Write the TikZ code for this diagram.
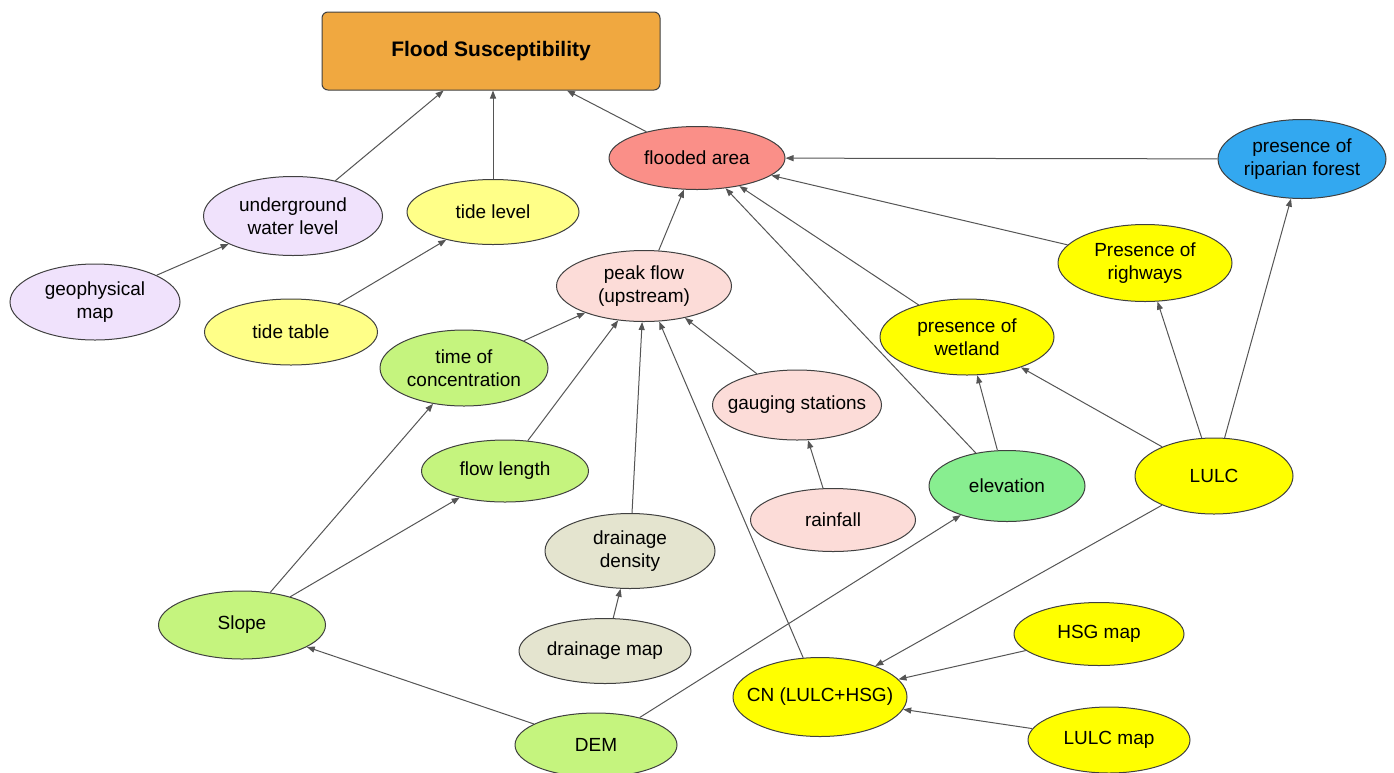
\documentclass[tikz,border=0pt]{standalone}
\usepackage{fontspec}
\setmainfont{Liberation Sans}
\usetikzlibrary{shapes.geometric,arrows.meta}
\definecolor{cOrange}{HTML}{F0A840}
\definecolor{cSalmon}{HTML}{FA8F88}
\definecolor{cLav}{HTML}{F0E2FC}
\definecolor{cLY}{HTML}{FFFF88}
\definecolor{cPink}{HTML}{FCDCD8}
\definecolor{cYel}{HTML}{FFFF00}
\definecolor{cGreen}{HTML}{C5F47E}
\definecolor{cElev}{HTML}{88EE90}
\definecolor{cBeige}{HTML}{E4E4CF}
\definecolor{cBlue}{HTML}{33A8F0}
\definecolor{cEdge}{HTML}{555555}
\definecolor{cBorder}{HTML}{404040}
\tikzset{
  ell/.style={ellipse, draw=cBorder, line width=1pt, inner xsep=-30pt, inner ysep=-6pt, align=center,
    font=\fontsize{19}{23}\selectfont},
  conn/.style={draw=cEdge, line width=1pt, -{Triangle[length=8pt,width=6pt]}},
}
\begin{document}
\begin{tikzpicture}[x=1pt,y=-1pt]
\useasboundingbox (0,0) rectangle (1394,772);
\node[draw=cBorder, fill=cOrange, line width=1pt, rounded corners=6pt, minimum width=338pt, minimum height=78pt,
  font=\fontsize{21}{25}\selectfont\bfseries] (fs) at (491,51) {Flood Susceptibility};
\node[ell, fill=cSalmon, minimum width=176pt, minimum height=63pt] (fa) at (697,158) {flooded area};
\node[ell, fill=cBlue, minimum width=168pt, minimum height=79pt] (rf) at (1302,159) {presence of\\riparian forest};
\node[ell, fill=cLav, minimum width=179pt, minimum height=79pt] (uw) at (293,216) {underground\\water level};
\node[ell, fill=cLY, minimum width=172pt, minimum height=65pt] (tl) at (493,212) {tide level};
\node[ell, fill=cLav, minimum width=170pt, minimum height=76pt] (gm) at (95,302) {geophysical\\map};
\node[ell, fill=cLY, minimum width=173pt, minimum height=66pt] (tt) at (291,332) {tide table};
\node[ell, fill=cPink, minimum width=175pt, minimum height=71pt] (pf) at (644,286) {peak flow\\(upstream)};
\node[ell, fill=cYel, minimum width=174pt, minimum height=77pt] (rw) at (1145,263) {Presence of\\righways};
\node[ell, fill=cYel, minimum width=174pt, minimum height=76pt] (wl) at (967,337) {presence of\\wetland};
\node[ell, fill=cGreen, minimum width=168pt, minimum height=76pt] (tc) at (464,368) {time of\\concentration};
\node[ell, fill=cPink, minimum width=169pt, minimum height=70pt] (gs) at (797,405) {gauging stations};
\node[ell, fill=cGreen, minimum width=167pt, minimum height=62pt] (fl) at (505,471) {flow length};
\node[ell, fill=cElev, minimum width=156pt, minimum height=71pt] (el) at (1007,486) {elevation};
\node[ell, fill=cYel, minimum width=158pt, minimum height=76pt] (lu) at (1214,476) {LULC};
\node[ell, fill=cPink, minimum width=165pt, minimum height=63pt] (rn) at (833,520) {rainfall};
\node[ell, fill=cBeige, minimum width=170pt, minimum height=75pt] (dd) at (630,551) {drainage\\density};
\node[ell, fill=cGreen, minimum width=167pt, minimum height=68pt] (sl) at (242,625) {Slope};
\node[ell, fill=cBeige, minimum width=172pt, minimum height=65pt] (dm) at (605,651) {drainage map};
\node[ell, fill=cYel, minimum width=170pt, minimum height=63pt] (hsg) at (1099,634) {HSG map};
\node[ell, fill=cYel, minimum width=174pt, minimum height=79pt] (cn) at (820,697) {CN (LULC+HSG)};
\node[ell, fill=cGreen, minimum width=162pt, minimum height=64pt] (dem) at (596,745) {DEM};
\node[ell, fill=cYel, minimum width=162pt, minimum height=66pt] (lm) at (1109,740) {LULC map};

\draw[conn] (uw) -- (fs);
\draw[conn] (tl) -- (tl|-fs.south);
\draw[conn] (fa) -- (fs);
\draw[conn] (rf) -- (fa);
\draw[conn] (rw) -- (fa);
\draw[conn] (wl) -- (fa);
\draw[conn] (el) -- (fa);
\draw[conn] (pf) -- (fa);
\draw[conn] (gm) -- (uw);
\draw[conn] (tt) -- (tl);
\draw[conn] (tc) -- (pf);
\draw[conn] (fl) -- (pf);
\draw[conn] (dd) -- (pf);
\draw[conn] (cn) -- (pf);
\draw[conn] (gs) -- (pf);
\draw[conn] (rn) -- (gs);
\draw[conn] (el) -- (wl);
\draw[conn] (lu) -- (wl);
\draw[conn] (lu) -- (rw);
\draw[conn] (lu) -- (rf);
\draw[conn] (lu) -- (cn);
\draw[conn] (hsg) -- (cn);
\draw[conn] (lm) -- (cn);
\draw[conn] (dm) -- (dd);
\draw[conn] (sl) -- (tc);
\draw[conn] (sl) -- (fl);
\draw[conn] (dem) -- (sl);
\draw[conn] (dem) -- (el);
\end{tikzpicture}
\end{document}
